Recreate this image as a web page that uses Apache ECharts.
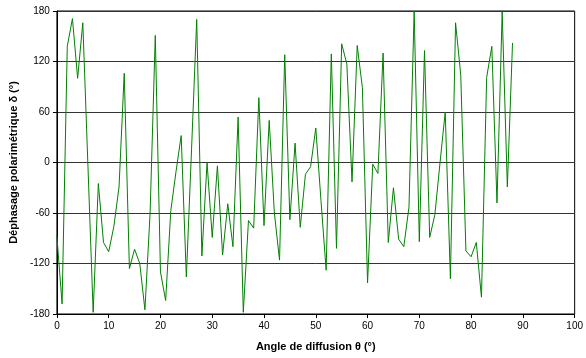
<!DOCTYPE html>
<html><head><meta charset="utf-8">
<script src="https://cdn.jsdelivr.net/npm/echarts@6/dist/echarts.min.js"></script>
<style>html,body{margin:0;padding:0;background:#fff}#c{width:586px;height:358px}</style>
</head><body><div id="c"></div>
<script>
const angles = [];
for (let i = 0; i <= 88; i++) angles.push(i);
const phase = [-88,-168,138,171,100,166,-5,-178,-25,-95,-106,-76,-29,106,-126,-103,-120,-175,-60,151,
-130,-164,-57,-11,32,-136,15,170,-111,0,-89,-4,-110,-49,-100,54,-178,-69,-78,77,
-75,50,-60,-116,128,-68,23,-77,-14,-5,41,-45,-128,129,-102,141,117,-23,139,89,
-143,-2,-13,130,-95,-30,-91,-100,-53,180,-94,133,-89,-62,0,60,-138,166,104,-105,
-112,-95,-160,101,138,-48,179,-29,142];
const xTicks = [0,100,10];
const yTicks = [-180,180,60];
const xName = 'Angle de diffusion θ (°)';
const yName = 'Déphasage polarimétrique δ (°)';

const chart = echarts.init(document.getElementById('c'));
const font = 'Liberation Sans, Arial, sans-serif';
chart.setOption({
  animation:false,
  grid:{left:53,right:8,top:11,bottom:44,show:true,borderColor:'#000',borderWidth:1},
  xAxis:{type:'value',min:xTicks[0],max:xTicks[1],interval:xTicks[2],
    name:xName,nameLocation:'middle',nameGap:27,
    nameTextStyle:{fontFamily:font,fontSize:11,fontWeight:'bold',color:'#000'},
    axisLine:{onZero:false,lineStyle:{color:'#000'}},axisTick:{show:true,length:4,lineStyle:{color:'#000'}},
    axisLabel:{fontFamily:font,fontSize:10,color:'#000',margin:7},
    splitLine:{show:false}},
  yAxis:{type:'value',min:yTicks[0],max:yTicks[1],interval:yTicks[2],
    name:yName,nameLocation:'middle',nameGap:33,nameRotate:90,
    nameTextStyle:{fontFamily:font,fontSize:11,fontWeight:'bold',color:'#000'},
    axisLine:{show:true,onZero:false,lineStyle:{color:'#000'}},axisTick:{show:true,length:4,lineStyle:{color:'#000'}},
    axisLabel:{fontFamily:font,fontSize:10,color:'#000',margin:7},
    splitLine:{show:true,lineStyle:{color:'#333',width:1}}},
  series:[{type:'line',data:angles.map((a,i)=>[a,phase[i]]),showSymbol:false,
    lineStyle:{color:'#008000',width:1},itemStyle:{color:'#008000'}}]
});
</script></body></html>
